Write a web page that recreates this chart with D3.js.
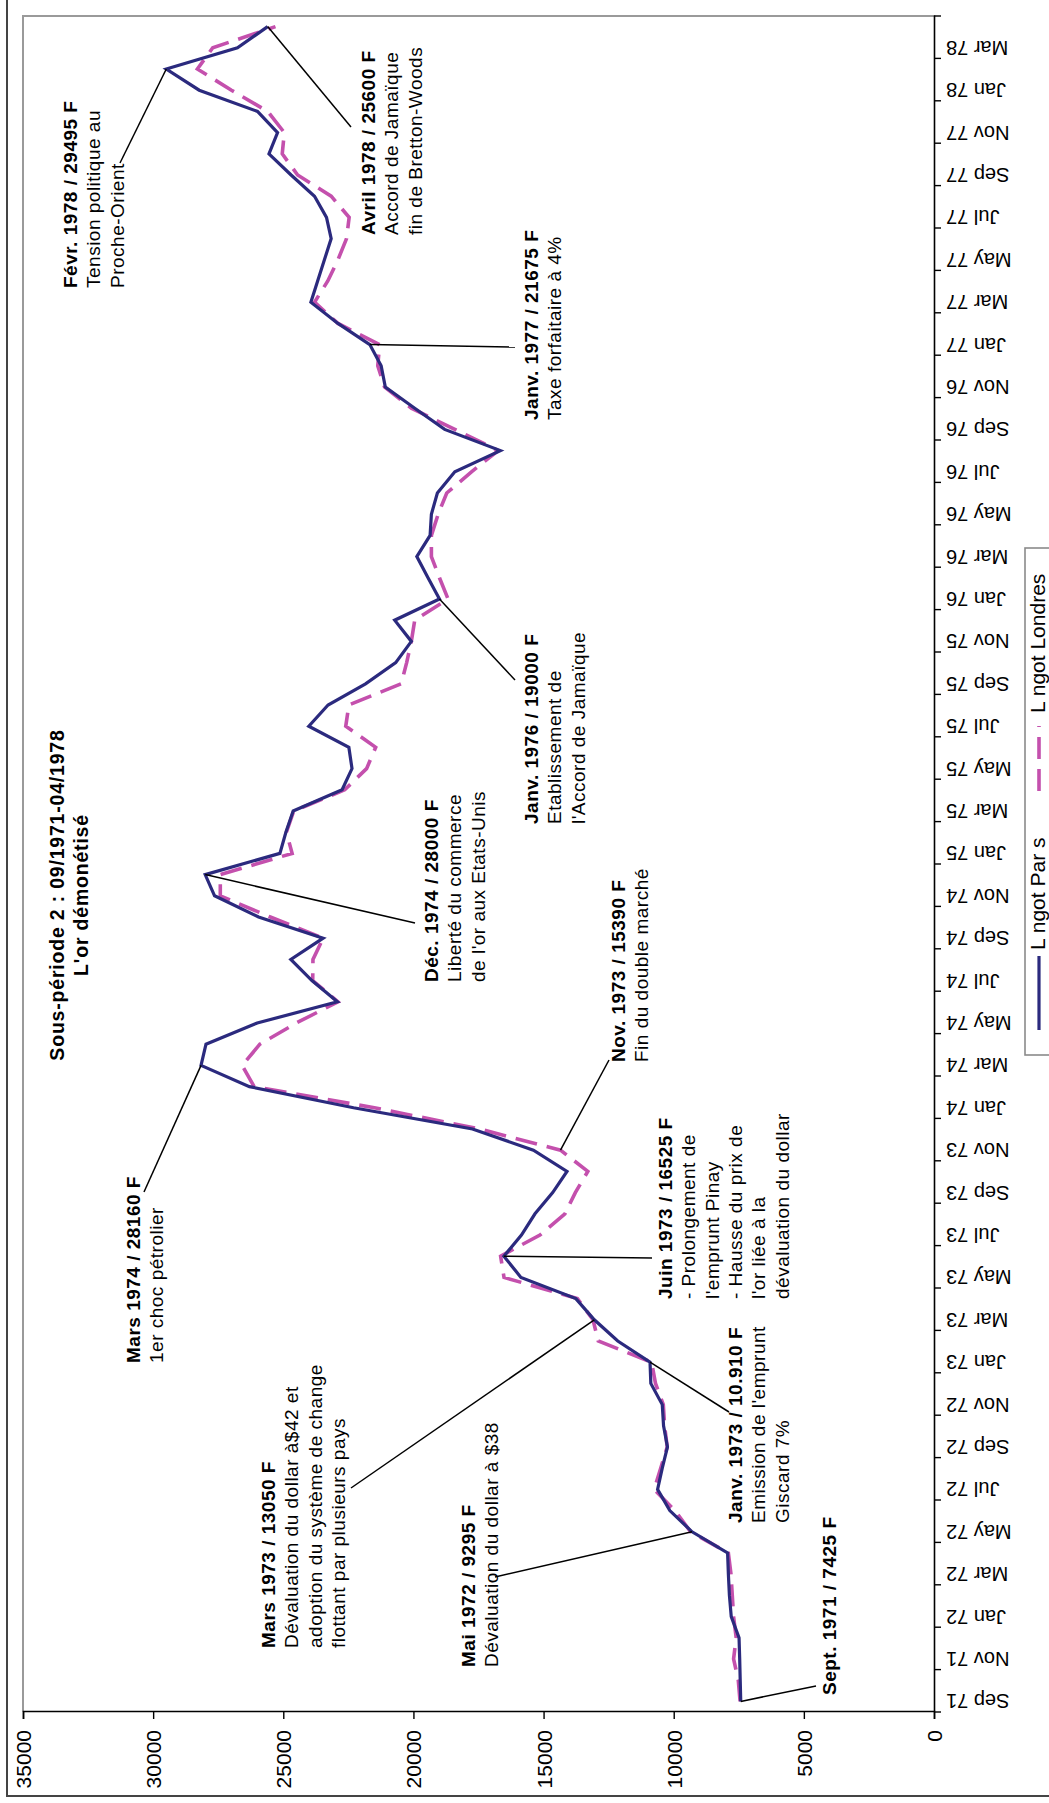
<!DOCTYPE html>
<html><head><meta charset="utf-8">
<script src="https://cdn.jsdelivr.net/npm/d3@7"></script>
<style>
body{margin:0;background:#fff}
svg{display:block}
text{font-family:"Liberation Sans",Arial,sans-serif;fill:#000}
</style>
</head><body>
<svg id="c" width="1049" height="1803"></svg>
<script>
// ---------- DATA ----------
const months = ["Sep 71","Oct 71","Nov 71","Dec 71",
"Jan 72","Feb 72","Mar 72","Apr 72","May 72","Jun 72","Jul 72","Aug 72","Sep 72","Oct 72","Nov 72","Dec 72",
"Jan 73","Feb 73","Mar 73","Apr 73","May 73","Jun 73","Jul 73","Aug 73","Sep 73","Oct 73","Nov 73","Dec 73",
"Jan 74","Feb 74","Mar 74","Apr 74","May 74","Jun 74","Jul 74","Aug 74","Sep 74","Oct 74","Nov 74","Dec 74",
"Jan 75","Feb 75","Mar 75","Apr 75","May 75","Jun 75","Jul 75","Aug 75","Sep 75","Oct 75","Nov 75","Dec 75",
"Jan 76","Feb 76","Mar 76","Apr 76","May 76","Jun 76","Jul 76","Aug 76","Sep 76","Oct 76","Nov 76","Dec 76",
"Jan 77","Feb 77","Mar 77","Apr 77","May 77","Jun 77","Jul 77","Aug 77","Sep 77","Oct 77","Nov 77","Dec 77",
"Jan 78","Feb 78","Mar 78","Apr 78"];

const lingotParis = [7425,7445,7465,7490,
7790,7860,7900,7930,9295,10150,10620,10440,10240,10390,10440,10880,
10910,12150,13050,13760,15870,16525,15850,15330,14650,14100,15390,17730,
22300,26300,28160,27970,26000,22920,23900,24710,23470,25950,27640,28000,
25130,24900,24620,22740,22360,22480,24020,23280,21840,20680,20080,20720,
19000,19440,19870,19360,19310,19080,18410,16660,18800,19950,21080,21240,
21675,22900,23940,23680,23420,23160,23340,23800,24700,25550,25220,25990,
28230,29495,26760,25600];

const lingotLondres = [7450,7520,7700,7600,
7700,7750,7800,7900,9350,9950,10750,10500,10250,10350,10400,10700,
10850,12900,13100,13700,16520,16650,15140,14180,13780,13300,14350,17450,
21500,26120,26580,25900,24500,22900,23870,23860,23470,25500,27420,27420,
24660,24880,24600,22640,21800,21450,22600,22480,20470,20260,20080,19950,
18670,19000,19310,19310,19050,18720,17770,16740,18410,20080,21110,21370,
21300,22900,23800,23290,22900,22570,22470,23160,24450,25040,24960,25600,
26990,28300,27710,25300];

const yTicks = [0,5000,10000,15000,20000,25000,30000,35000];
const seriesNames = ["L ngot Par s","L ngot Londres"];
const titleLines = ["Sous-période 2 : 09/1971-04/1978","L'or démonétisé"];

// annotations: month, series pointed at, text lines (first line bold)
const annotations = [
 {m:"Sep 71", s:0, lines:["Sept. 1971 / 7425 F"]},
 {m:"May 72", s:0, lines:["Mai 1972 / 9295 F","Dévaluation du dollar à $38"]},
 {m:"Mar 73", s:0, lines:["Mars 1973 / 13050 F","Dévaluation du dollar à$42 et","adoption du système de change","flottant par plusieurs pays"]},
 {m:"Jan 73", s:0, lines:["Janv. 1973 / 10.910 F","Emission de l'emprunt","Giscard 7%"]},
 {m:"Jun 73", s:0, lines:["Juin 1973 / 16525 F","- Prolongement de","l'emprunt Pinay","- Hausse du prix de","l'or liée à la","dévaluation du dollar"]},
 {m:"Mar 74", s:0, lines:["Mars 1974 / 28160 F","1er choc pétrolier"]},
 {m:"Nov 73", s:1, lines:["Nov. 1973 / 15390 F","Fin du double marché"]},
 {m:"Dec 74", s:0, lines:["Déc. 1974 / 28000 F","Liberté du commerce","de l'or aux Etats-Unis"]},
 {m:"Jan 76", s:0, lines:["Janv. 1976 / 19000 F","Etablissement de","l'Accord de Jamaïque"]},
 {m:"Jan 77", s:0, lines:["Janv. 1977 / 21675 F","Taxe forfaitaire à 4%"]},
 {m:"Apr 78", s:0, lines:["Avril 1978 / 25600 F","Accord de Jamaïque","fin de Bretton-Woods"]},
 {m:"Feb 78", s:0, lines:["Févr. 1978 / 29495 F","Tension politique au","Proche-Orient"]}
];

// ---------- LAYOUT (landscape frame, rotated afterwards) ----------
const W = 1803;
const plot = {left:91, right:1787, top:23, bottom:934};
// text start x, first baseline y, leader end x,y
const annLayout = [
 {tx:108, ty:836, ex:117, ey:816},
 {tx:136, ty:475, ex:226, ey:495},
 {tx:155, ty:275, ex:315, ey:351},
 {tx:280, ty:742, ex:391, ey:729},
 {tx:504, ty:672, ex:545, ey:652},
 {tx:440, ty:140, ex:611, ey:144},
 {tx:741, ty:625, ex:743, ey:609},
 {tx:821, ty:438, ex:880, ey:415},
 {tx:979, ty:538, ex:1123, ey:515},
 {tx:1383, ty:538, ex:1456, ey:515},
 {tx:1568, ty:375, ex:1676, ey:351},
 {tx:1515, ty:77, ex:1640, ey:120}
];
const lineH = 23.3;
const colors = ["#2b2a7e","#c450ad"];

const svg = d3.select("#c");
const g = svg.append("g").attr("transform",`translate(0,${W}) rotate(-90)`);

// outer frame
g.append("path").attr("d",`M7,1060 V7 H1810`).attr("fill","none").attr("stroke","#444").attr("stroke-width",2);

const x = d3.scaleBand().domain(months).range([plot.left, plot.right]).paddingInner(0).paddingOuter(0);
const y = d3.scaleLinear().domain([0,35000]).range([plot.bottom, plot.top]);
const cx = m => x(m) + x.bandwidth()/2;

// plot frame (gray top/right)
g.append("path").attr("d",`M${plot.left},${plot.top} H${plot.right} V${plot.bottom}`)
 .attr("fill","none").attr("stroke","#9a9a9a").attr("stroke-width",2);

// value axis
const ya = g.append("g").attr("transform",`translate(${plot.left},0)`)
 .call(d3.axisLeft(y).tickValues(yTicks).tickSize(7).tickPadding(11).tickFormat(d3.format("d")));
ya.select(".domain").attr("stroke","#000").attr("stroke-width",1.6);
ya.selectAll(".tick line").attr("stroke","#000").attr("stroke-width",1.4);
ya.selectAll(".tick text").attr("font-size",21).attr("font-family","Liberation Sans, Arial, sans-serif").attr("fill","#000").attr("dy","0.36em");

// category axis
const tickMonths = months.filter((d,i)=> i%2===0);
const xa = g.append("g").attr("transform",`translate(0,${plot.bottom})`)
 .call(d3.axisBottom(x).tickValues(tickMonths).tickSize(0).tickPadding(0));
xa.select(".domain").attr("stroke","#000").attr("stroke-width",1.6);
xa.selectAll(".tick line").remove();
xa.selectAll(".tick text")
 .attr("font-size",20).attr("font-family","Liberation Sans, Arial, sans-serif").attr("fill","#000")
 .attr("transform","rotate(-90)").attr("text-anchor","end")
 .attr("x",-12).attr("y",0).attr("dy","0.35em");
// tick marks at category boundaries every 2 months
const boundaryTicks = tickMonths.map(m=>x(m)).concat([x.range()[1]]);
xa.selectAll(".bt").data(boundaryTicks).join("line").attr("class","bt")
 .attr("x1",d=>d).attr("x2",d=>d).attr("y1",0).attr("y2",7).attr("stroke","#000").attr("stroke-width",1.4);

// lines
const line = d3.line().x((d,i)=>cx(months[i])).y(d=>y(d));
g.append("path").datum(lingotLondres).attr("d",line).attr("fill","none")
 .attr("stroke",colors[1]).attr("stroke-width",3.6).attr("stroke-dasharray","22,10").attr("stroke-linejoin","miter");
g.append("path").datum(lingotParis).attr("d",line).attr("fill","none")
 .attr("stroke",colors[0]).attr("stroke-width",3.2).attr("stroke-linejoin","miter");

// annotations
const series = [lingotParis, lingotLondres];
annotations.forEach((a,k)=>{
  const L = annLayout[k];
  const i = months.indexOf(a.m);
  const px = cx(a.m), py = y(series[a.s][i]);
  g.append("line").attr("x1",px).attr("y1",py).attr("x2",L.ex).attr("y2",L.ey)
   .attr("stroke","#000").attr("stroke-width",1.5);
  const t = g.append("text").attr("font-size",19).attr("letter-spacing","0.5px");
  a.lines.forEach((s,j)=>{
    t.append("tspan").attr("x",L.tx).attr("y",L.ty + j*lineH)
     .attr("font-weight", j===0 ? "bold" : "normal").text(s);
  });
});

// title
const tt = g.append("text").attr("font-size",19.5).attr("font-weight","bold").attr("text-anchor","middle").attr("letter-spacing","0.8px");
titleLines.forEach((s,j)=> tt.append("tspan").attr("x",908).attr("y",64 + j*24).text(s));

// legend
const lg = g.append("g");
lg.append("rect").attr("x",748).attr("y",1025).attr("width",507).attr("height",60)
 .attr("fill","#fff").attr("stroke","#8a8a8a").attr("stroke-width",1.6);
const legItems = [{x0:773,x1:847,tx:853},{x0:1012,x1:1077,tx:1090}];
seriesNames.forEach((nm,k)=>{
  const it = legItems[k];
  lg.append("line").attr("x1",it.x0).attr("x2",it.x1).attr("y1",1039).attr("y2",1039)
   .attr("stroke",colors[k]).attr("stroke-width",k?3.6:3.2).attr("stroke-dasharray",k?"22,10":null);
  lg.append("text").attr("x",it.tx).attr("y",1045).attr("font-size",21).text(nm);
});
</script>
</body></html>
